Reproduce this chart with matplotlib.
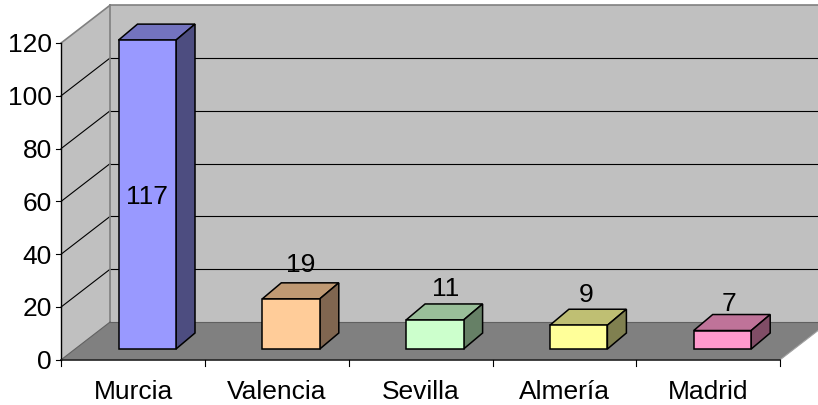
import matplotlib
matplotlib.use('Agg')
import matplotlib.pyplot as plt
from matplotlib.patches import Polygon

ciudades = ['Murcia', 'Valencia', 'Sevilla', 'Almería', 'Madrid']
valores = [117, 19, 11, 9, 7]
ticks_y = [0, 20, 40, 60, 80, 100, 120]
color_frente = ['#9999FF', '#FFCC99', '#CCFFCC', '#FFFF99', '#FF99CC']
color_arriba = ['#7373BF', '#BF9973', '#99BF99', '#BFBF73', '#BF7399']
color_lado = ['#4D4D80', '#806650', '#668066', '#808050', '#804D66']
# Ajuste de las etiquetas en pixeles
ajuste_x = [0, 10, 11, 7, 7]
ajuste_y = [0, 20, 17, 17, 13]

# Escalas en pixeles de la imagen
PX_CAT = 143.8
PX_VAL = 2.64
X0 = 133.0
Y0 = 359.8
LETRA = 19


def dx(px):
    return px / PX_CAT


def dy(px):
    return px / PX_VAL


def caja(ax, x0, x1, v0, v1, prof_x, prof_y, frente, arriba, lado):
    ax.add_patch(Polygon([(x0, v1), (x1, v1), (x1 + prof_x, v1 + prof_y), (x0 + prof_x, v1 + prof_y)],
                         facecolor=arriba, edgecolor='black', lw=1.1, zorder=5))
    ax.add_patch(Polygon([(x1, v0), (x1 + prof_x, v0 + prof_y), (x1 + prof_x, v1 + prof_y), (x1, v1)],
                         facecolor=lado, edgecolor='black', lw=1.1, zorder=5))
    ax.add_patch(Polygon([(x0, v0), (x1, v0), (x1, v1), (x0, v1)],
                         facecolor=frente, edgecolor='black', lw=1.1, zorder=5))


def main():
    plt.rcParams['font.family'] = ['Liberation Sans', 'DejaVu Sans']

    fig = plt.figure(figsize=(8.18, 4.05), dpi=100)
    ax = fig.add_axes([0, 0, 1, 1])
    ax.set_xlim(-X0 / PX_CAT, (818 - X0) / PX_CAT)
    ax.set_ylim((Y0 - 405) / PX_VAL, Y0 / PX_VAL)
    ax.axis('off')

    izq = -0.5
    der = len(ciudades) - 0.5
    fondo_x = dx(49)
    fondo_y = dy(37.8)
    tope = ticks_y[-1]
    borde = ax.get_xlim()[1]

    # Paredes y suelo
    ax.add_patch(Polygon([(izq, 0), (izq + fondo_x, fondo_y), (izq + fondo_x, tope + fondo_y), (izq, tope)],
                         facecolor='#C0C0C0', edgecolor='none', zorder=1))
    ax.add_patch(Polygon([(izq + fondo_x, fondo_y), (borde, fondo_y), (borde, tope + fondo_y),
                          (izq + fondo_x, tope + fondo_y)],
                         facecolor='#C0C0C0', edgecolor='none', zorder=1))
    ax.add_patch(Polygon([(izq, 0), (der, 0), (der + fondo_x, fondo_y), (izq + fondo_x, fondo_y)],
                         facecolor='#808080', edgecolor='none', zorder=2))

    # Rejilla
    for v in ticks_y[1:-1]:
        ax.plot([izq, izq + fondo_x], [v, v + fondo_y], color='black', lw=0.8, zorder=3)
        ax.plot([izq + fondo_x, borde], [v + fondo_y, v + fondo_y], color='black', lw=0.8, zorder=3)
    ax.plot([izq, izq + fondo_x], [tope, tope + fondo_y], color='#808080', lw=1.2, zorder=3)
    ax.plot([izq + fondo_x, borde], [tope + fondo_y, tope + fondo_y], color='#808080', lw=1.2, zorder=3)
    ax.plot([izq + fondo_x, izq + fondo_x], [fondo_y, tope + fondo_y], color='#808080', lw=1.2, zorder=3)
    ax.plot([izq + fondo_x, borde], [fondo_y, fondo_y], color='#606060', lw=0.8, zorder=3)
    ax.plot([izq, izq + fondo_x], [0, fondo_y], color='#606060', lw=0.8, zorder=3)
    ax.plot([der, der + fondo_x], [0, fondo_y], color='#A0A0A0', lw=0.8, zorder=3)

    # Ejes
    ax.plot([izq, izq], [0, tope], color='black', lw=1.0, zorder=4)
    ax.plot([izq, der], [0, 0], color='#202020', lw=1.2, zorder=4)
    for v in ticks_y:
        ax.plot([izq - dx(5), izq], [v, v], color='black', lw=0.8, zorder=4)
        ax.text(izq - dx(9), v, str(v), ha='right', va='center_baseline', fontsize=LETRA, color='black')
    for i in range(len(ciudades) + 1):
        ax.plot([i - 0.5, i - 0.5], [0, -dy(6)], color='black', lw=0.8, zorder=4)

    # Barras
    prof_x = dx(19)
    prof_y = dy(16)
    base = dy(10.8)
    for i, (ciudad, valor) in enumerate(zip(ciudades, valores)):
        x0 = i + dx(118.5 - X0)
        x1 = i + dx(176 - X0)
        caja(ax, x0, x1, base, base + valor, prof_x, prof_y,
             color_frente[i], color_arriba[i], color_lado[i])
        centro = (x0 + x1) / 2
        if valor > 100:
            ax.text(centro, base + valor / 2, str(valor), ha='center', va='center_baseline',
                    fontsize=LETRA, color='black', zorder=6)
        else:
            ax.text(centro + dx(ajuste_x[i]), base + valor + prof_y + dy(ajuste_y[i]), str(valor),
                    ha='center', va='center_baseline', fontsize=LETRA, color='black', zorder=6)
        ax.text(i, -dy(30), ciudad, ha='center', va='center_baseline', fontsize=LETRA, color='black')

    fig.savefig('out.png', dpi=100)


if __name__ == "__main__":
    main()
